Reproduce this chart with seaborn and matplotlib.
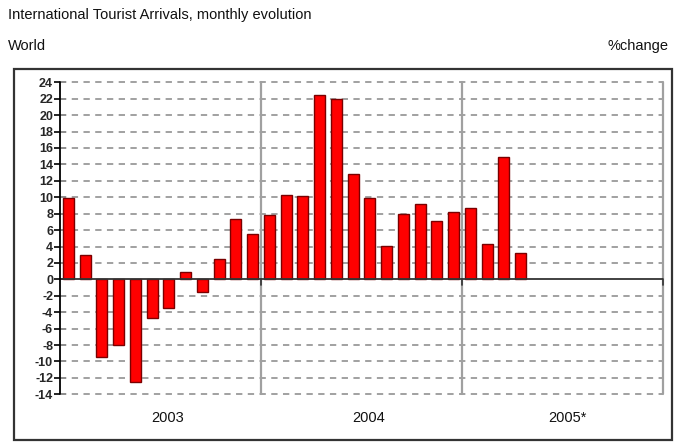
import matplotlib
matplotlib.use("Agg")
import matplotlib.pyplot as plt
import seaborn as sns
import pandas as pd
from matplotlib.patches import Rectangle

months = [f"2003-{m:02d}" for m in range(1, 13)] + [f"2004-{m:02d}" for m in range(1, 13)] + [f"2005-{m:02d}" for m in range(1, 5)]
values = [9.9, 3.0, -9.5, -8.0, -12.5, -4.7, -3.5, 0.9, -1.5, 2.5, 7.3, 5.5,
          7.8, 10.3, 10.1, 22.4, 22.0, 12.8, 9.9, 4.1, 8.0, 9.2, 7.1, 8.2,
          8.7, 4.3, 14.9, 3.2]
year_labels = ["2003", "2004", "2005*"]
yticks = list(range(-14, 25, 2))

sns.set_theme(style="white")
plt.rcParams['font.family'] = ['Liberation Sans', 'DejaVu Sans']

df = pd.DataFrame({"month": months, "change": values})

fig = plt.figure(figsize=(6.75, 4.43), dpi=100)
W, H = 675, 443
ax = fig.add_axes([60 / W, 1 - 394.3 / H, 603 / W, 312 / H])

sns.barplot(data=df, x="month", y="change", order=months, color="#ff0000",
            saturation=1, width=0.66, edgecolor="#7a0000", linewidth=1.0, ax=ax, zorder=3)

ax.set_xlim(-0.5, 35.5)
ax.set_ylim(-14, 24)
for s in ax.spines.values():
    s.set_visible(False)

# dashed horizontal grid
for yv in yticks:
    if yv != 0:
        ax.axhline(yv, color="#9a9a9a", lw=1.3, ls=(0, (3.5, 3.0)), zorder=1, clip_on=False)
# year separators
for xv in [11.5, 23.5, 35.5]:
    ax.plot([xv, xv], [-14, 24], color="#a0a0a0", lw=1.6, zorder=2, clip_on=False)
    ax.plot([xv, xv], [0, -0.7], color="#333333", lw=1.2, zorder=4, clip_on=False)
# zero axis and left axis
ax.axhline(0, color="#333333", lw=1.3, zorder=4)
ax.plot([-0.5, -0.5], [-14, 24], color="black", lw=1.3, zorder=4, clip_on=False)

ax.set_yticks(yticks)
ax.set_yticklabels([str(v) for v in yticks], fontsize=9, fontweight="bold")
ax.tick_params(axis="y", left=True, direction="inout", length=8, width=1.2, color="black", pad=1)
ax.set_xticks([])
ax.set_xlabel("")
ax.set_ylabel("")

for xp, lab in zip([5.9, 17.9, 29.8], year_labels):
    ax.text(xp, -16.9, lab, ha="center", va="center", fontsize=10.5, color="#111111")

# outer frame
fig.add_artist(Rectangle((14 / W, 1 - 440 / H), 658 / W, 371 / H, transform=fig.transFigure,
                         fill=False, edgecolor="#333333", lw=1.6))

fig.text(8 / W, 1 - 15 / H, "International Tourist Arrivals, monthly evolution",
         ha="left", va="center", fontsize=10.5, color="#111111")
fig.text(8 / W, 1 - 46 / H, "World", ha="left", va="center", fontsize=10.5, color="#111111")
fig.text(668 / W, 1 - 46 / H, "%change", ha="right", va="center", fontsize=10.5, color="#111111")

fig.savefig("out.png", dpi=100)
